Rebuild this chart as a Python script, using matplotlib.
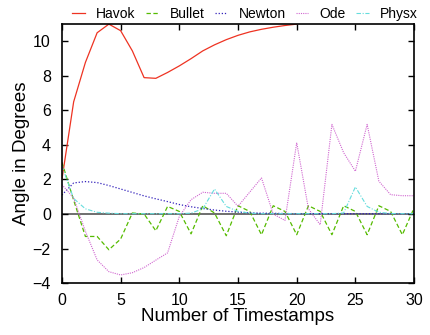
import numpy as np
import matplotlib
matplotlib.use("Agg")
import matplotlib.pyplot as plt

plt.rcParams['font.family'] = ['Liberation Sans', 'DejaVu Sans']

# ─────────────────────────────────────────────
# DATA
# ─────────────────────────────────────────────
t_havok = np.arange(0, 21)
havok = [2.0, 6.5, 8.78, 10.5, 11.0, 10.62, 9.45, 7.9, 7.86, 8.2, 8.58,
         9.0, 9.45, 9.8, 10.1, 10.35, 10.55, 10.7, 10.82, 10.92, 11.0]

t = np.arange(0, 31)
bullet = [3.0, 0.8, -1.3, -1.3, -2.07, -1.45, 0.06, 0.0, -0.97, 0.44, 0.15,
          -1.15, 0.48, 0.06, -1.26, 0.48, 0.15, -1.2, 0.48, 0.15, -1.2,
          0.48, 0.15, -1.2, 0.48, 0.15, -1.2, 0.48, 0.15, -1.2, 0.35]
newton = [1.1, 1.8, 1.88, 1.82, 1.65, 1.45, 1.25, 1.05, 0.88, 0.72, 0.55,
          0.42, 0.32, 0.23, 0.16, 0.11, 0.07, 0.05, 0.04, 0.03, 0.02,
          0.02, 0.02, 0.02, 0.02, 0.02, 0.02, 0.02, 0.02, 0.02, 0.02]
ode = [1.7, 0.93, -1.0, -2.66, -3.34, -3.53, -3.4, -3.1, -2.67, -2.25, -0.14,
       0.83, 1.26, 1.2, 1.2, 0.45, 1.27, 2.09, 0.0, -0.37, 4.13,
       0.3, -0.62, 5.19, 3.55, 2.48, 5.19, 1.9, 1.12, 1.06, 1.06]
physx = [2.8, 0.9, 0.3, 0.1, 0.05, 0.02, 0.02, 0.02, 0.02, 0.02, 0.02,
         0.05, 0.3, 1.45, 0.44, 0.15, 0.05, 0.02, 0.02, 0.02, 0.02,
         0.02, 0.02, 0.02, 0.06, 1.57, 0.44, 0.1, 0.03, 0.02, 0.02]

# ─────────────────────────────────────────────
# PLOT
# ─────────────────────────────────────────────
fig = plt.figure(figsize=(4.3, 3.35), dpi=100)
ax = fig.add_axes([0.144, 0.155, 0.819, 0.773])

ax.axhline(0, color='#555555', lw=1.2, zorder=1)
ax.plot(t_havok, havok, color='#ee3322', lw=0.9, ls='-', label='Havok')
ax.plot(t, bullet, color='#55bb00', lw=0.9, ls=(0, (3.5, 2)), label='Bullet')
ax.plot(t, newton, color='#3322bb', lw=0.9, ls=(0, (1, 1.5)), label='Newton')
ax.plot(t, ode, color='#d066d0', lw=0.8, ls=(0, (1, 1)), label='Ode')
ax.plot(t, physx, color='#66dddd', lw=0.8, ls=(0, (4, 1.5, 1, 1.5)), label='Physx')

ax.set_xlim(0, 30)
ax.set_ylim(-4, 11)
ax.set_xticks(range(0, 31, 5))
ax.set_yticks(range(-4, 11, 2))
ax.tick_params(direction='in', top=True, right=True, length=4, width=1,
               labelsize=11.5)
ax.tick_params(axis='y', pad=8)
ax.tick_params(axis='x', pad=7)
for s in ax.spines.values():
    s.set_linewidth(1.2)
ax.set_xlabel("Number of Timestamps", fontsize=13.5, labelpad=0)
ax.set_ylabel("Angle in Degrees", fontsize=13.5, labelpad=2)

ax.legend(loc='lower center', bbox_to_anchor=(0.52, 0.985), ncol=5, frameon=False,
          fontsize=10, handlelength=0.9, handletextpad=0.8, columnspacing=0.75,
          borderaxespad=0.1)

fig.savefig("out.png", dpi=100)
